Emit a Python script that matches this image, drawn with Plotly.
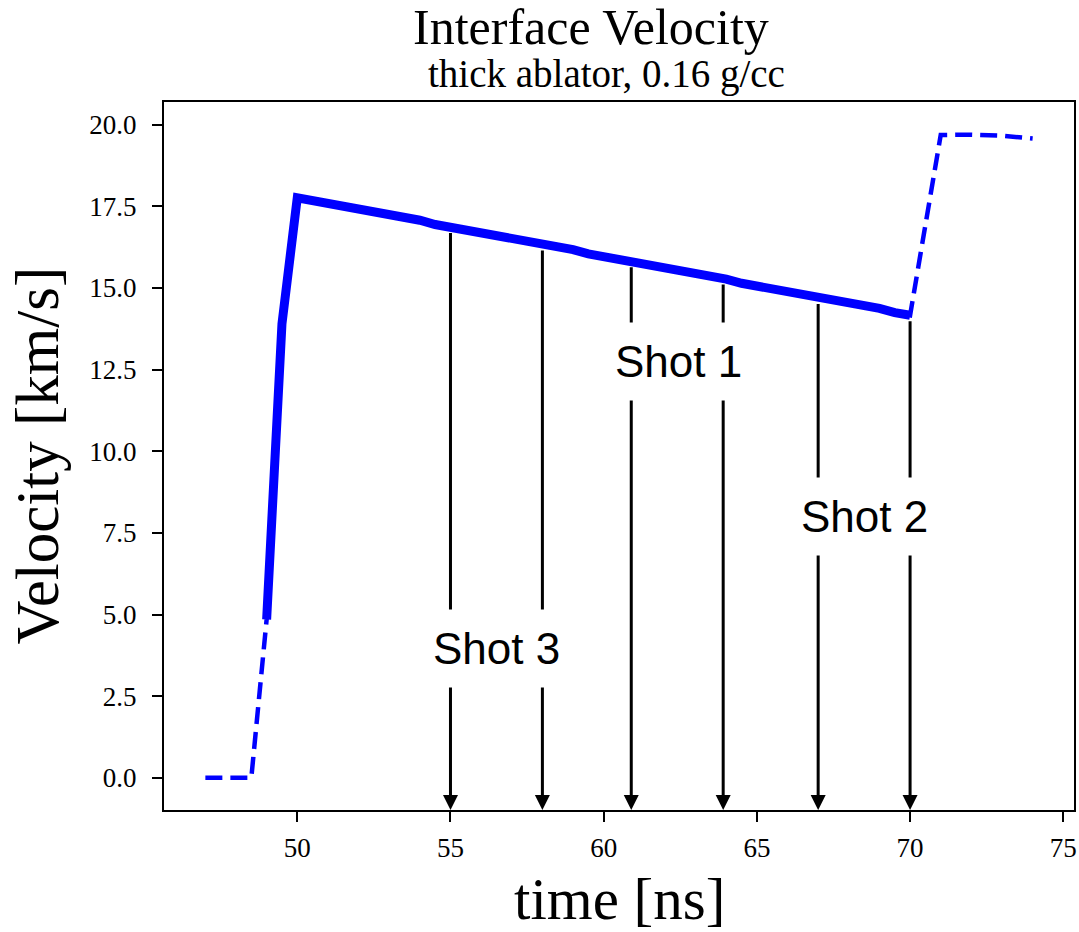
import numpy as np
import plotly.graph_objects as go

# Interface velocity history (ns, km/s)
time_ns = [47.0, 47.5, 48.0, 48.5, 49.0, 49.5,
           50.0, 50.5, 51.0, 51.5, 52.0, 52.5, 53.0, 53.5, 54.0, 54.5,
           55.0, 55.5, 56.0, 56.5, 57.0, 57.5, 58.0, 58.5, 59.0, 59.5,
           60.0, 60.5, 61.0, 61.5, 62.0, 62.5, 63.0, 63.5, 64.0, 64.5,
           65.0, 65.5, 66.0, 66.5, 67.0, 67.5, 68.0, 68.5, 69.0, 69.5,
           70.0, 71.0, 72.0, 73.0, 74.0]
velocity_kms = [0.0, 0.0, 0.0, 0.0, 4.85, 13.90,
                17.76, 17.68, 17.60, 17.52, 17.44, 17.31, 17.23, 17.15, 17.07, 16.94,
                16.86, 16.78, 16.70, 16.62, 16.49, 16.41, 16.33, 16.25, 16.17, 16.04,
                15.96, 15.88, 15.80, 15.72, 15.59, 15.51, 15.43, 15.35, 15.27, 15.14,
                15.06, 14.98, 14.90, 14.82, 14.69, 14.61, 14.53, 14.45, 14.37, 14.24,
                14.16, 19.68, 19.69, 19.66, 19.57]

# Measurement window drawn as a heavy solid line
window_start, window_end = 49.0, 70.0

# Shot timings and their labels
shot_times = [[55.0, 58.0], [60.9, 63.9], [67.0, 70.0]]
shot_names = ["Shot 3", "Shot 1", "Shot 2"]
label_time = [56.5, 62.45, 68.5]
label_vel = [3.95, 12.75, 8.0]

x_range = [45.65, 75.35]
y_range = [-0.985, 20.69]

t_arr = np.array(time_ns)
v_arr = np.array(velocity_kms)
in_window = (t_arr >= window_start) & (t_arr <= window_end)

serif = "Liberation Serif"
sans = "Liberation Sans"

fig = go.Figure()
fig.add_trace(go.Scatter(
    x=time_ns, y=velocity_kms, mode="lines",
    line=dict(color="#0000ff", width=4.5, dash="17px,8px"),
    showlegend=False, hoverinfo="skip"))
fig.add_trace(go.Scatter(
    x=t_arr[in_window], y=v_arr[in_window], mode="lines",
    line=dict(color="#0000ff", width=9),
    showlegend=False, hoverinfo="skip"))

annotations = []
# arrows from the velocity curve down to the time axis
for pair in shot_times:
    for t in pair:
        v_top = float(np.interp(t, t_arr, v_arr))
        annotations.append(dict(
            x=t, y=y_range[0], ax=t, ay=v_top,
            xref="x", yref="y", axref="x", ayref="y",
            text="", showarrow=True, arrowhead=2, arrowsize=1,
            arrowwidth=3, arrowcolor="black", startstandoff=4.5, standoff=0))
# shot labels on white boxes that break the arrows
for name, tx, vy in zip(shot_names, label_time, label_vel):
    annotations.append(dict(
        x=tx, y=vy, xref="x", yref="y", text=name, showarrow=False,
        xanchor="center", yanchor="middle",
        font=dict(family=sans, size=44, color="black"),
        bgcolor="white", borderpad=14))

# titles and axis labels
annotations += [
    dict(x=0.4692, y=1.106, xref="paper", yref="paper", text="Interface Velocity",
         showarrow=False, xanchor="center", yanchor="middle",
         font=dict(family=serif, size=50, color="black")),
    dict(x=0.4863, y=1.040, xref="paper", yref="paper", text="thick ablator, 0.16 g/cc",
         showarrow=False, xanchor="center", yanchor="middle",
         font=dict(family=serif, size=39, color="black")),
    dict(x=-0.14, y=0.5, xref="paper", yref="paper", text="Velocity [km/s]",
         showarrow=False, xanchor="center", yanchor="middle", textangle=-90,
         font=dict(family=serif, size=61, color="black")),
    dict(x=0.5, y=-0.126, xref="paper", yref="paper", text="time [ns]",
         showarrow=False, xanchor="center", yanchor="middle",
         font=dict(family=serif, size=59, color="black")),
]

axis_common = dict(
    showgrid=False, zeroline=False, showline=True, linecolor="black",
    linewidth=2, mirror=True, ticks="outside", ticklen=10, tickwidth=2,
    tickcolor="black", automargin=False,
    tickfont=dict(family=serif, size=27, color="black"))

fig.update_layout(
    width=1079, height=932,
    margin=dict(l=164, r=5, t=102, b=122, pad=0),
    paper_bgcolor="white", plot_bgcolor="white",
    xaxis=dict(range=x_range, tick0=0, dtick=5, ticklabelstandoff=3, **axis_common),
    yaxis=dict(range=y_range, tick0=0, dtick=2.5, tickformat=".1f",
               ticklabelstandoff=10, **axis_common),
    annotations=annotations,
)

fig.write_html("out.html")
